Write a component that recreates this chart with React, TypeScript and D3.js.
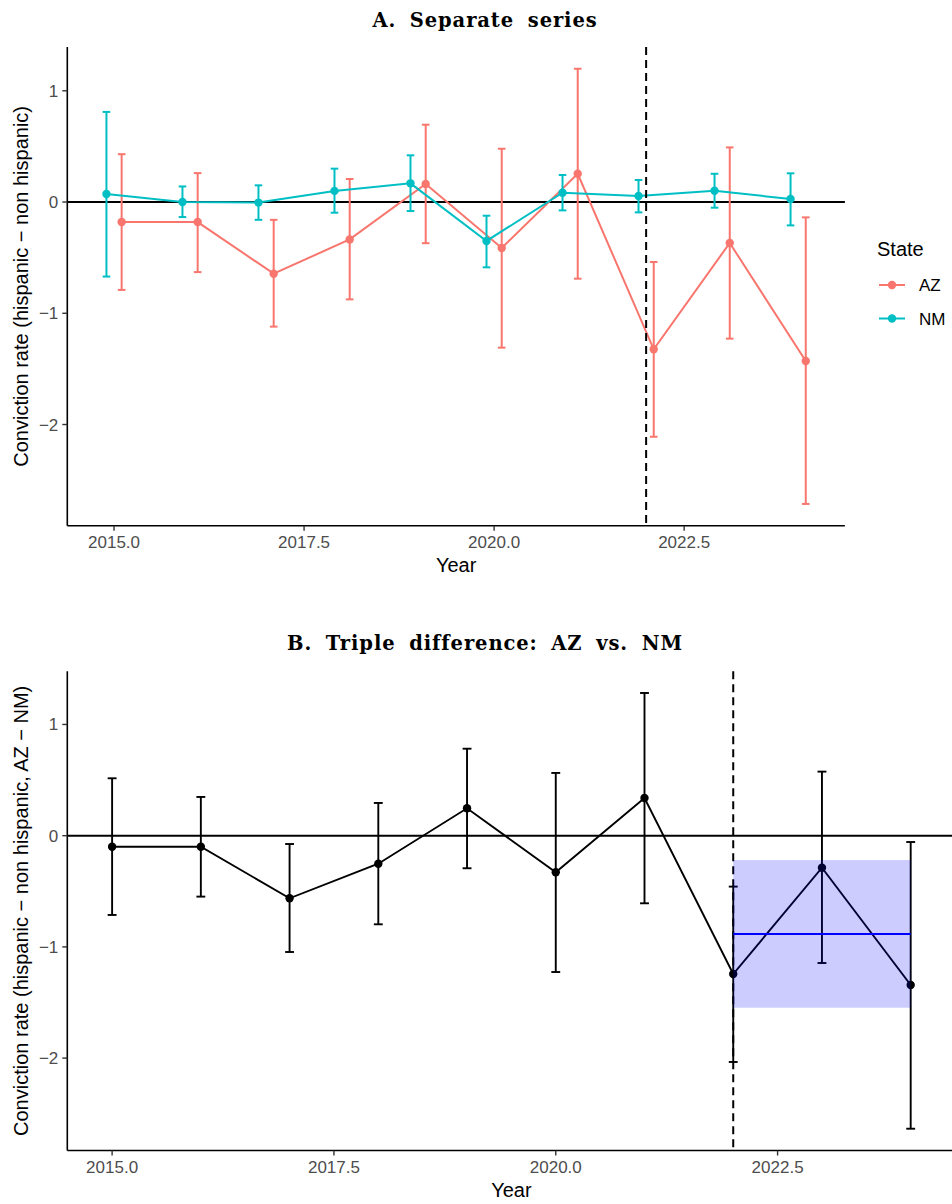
import React from "react";
import * as d3 from "d3";

const years = [2015, 2016, 2017, 2018, 2019, 2020, 2021, 2022, 2023, 2024];
const azEst = [-0.18, -0.18, -0.644, -0.336, 0.162, -0.413, 0.254, -1.324, -0.368, -1.429];
const azLo = [-0.79, -0.63, -1.12, -0.875, -0.37, -1.309, -0.689, -2.11, -1.228, -2.714];
const azHi = [0.43, 0.26, -0.16, 0.207, 0.695, 0.479, 1.198, -0.539, 0.491, -0.138];
const nmEst = [0.072, 0.0, -0.005, 0.1, 0.168, -0.35, 0.084, 0.054, 0.102, 0.027];
const nmLo = [-0.67, -0.135, -0.16, -0.096, -0.081, -0.587, -0.075, -0.093, -0.051, -0.21];
const nmHi = [0.81, 0.14, 0.15, 0.3, 0.42, -0.123, 0.243, 0.198, 0.254, 0.258];

const tdEst = [-0.099, -0.099, -0.563, -0.252, 0.246, -0.329, 0.339, -1.244, -0.288, -1.343];
const tdLo = [-0.713, -0.548, -1.046, -0.797, -0.293, -1.226, -0.608, -2.035, -1.145, -2.635];
const tdHi = [0.516, 0.348, -0.075, 0.294, 0.782, 0.564, 1.283, -0.458, 0.576, -0.057];

const pooledStart = [2022];
const pooledEnd = [2024];
const pooledEst = [-0.884];
const pooledLo = [-1.547];
const pooledHi = [-0.219];

const treatYear = 2022;
const xTicks = [2015, 2017.5, 2020, 2022.5];
const yTicks = [-2, -1, 0, 1];
const states = ["AZ", "NM"];
const stateColors = ["#F8766D", "#00BFC4"];

const SANS = "'Liberation Sans', Arial, Helvetica, sans-serif";
const SERIF = "'DejaVu Serif', serif";

function expand(lo: number, hi: number, f = 0.05): [number, number] {
  const s = hi - lo;
  return [lo - s * f, hi + s * f];
}

const fmtY = (v: number) => (v < 0 ? "\u2212" + Math.abs(v) : String(v));
const fmtX = (v: number) => v.toFixed(1);

function Axes({ x, y, top, bottom, left, right, ylabel, ylabelY, xlabelX }: any) {
  return (
    <g>
      <line x1={left} x2={left} y1={top} y2={bottom} stroke="#000" strokeWidth={1.6} />
      <line x1={left} x2={right} y1={bottom} y2={bottom} stroke="#000" strokeWidth={1.6} />
      {yTicks.map((t) => (
        <g key={"y" + t}>
          <line x1={left - 5} x2={left} y1={y(t)} y2={y(t)} stroke="#333" strokeWidth={1.4} />
          <text x={left - 9} y={y(t) + 6} textAnchor="end" fontFamily={SANS} fontSize={17} fill="#4D4D4D">
            {fmtY(t)}
          </text>
        </g>
      ))}
      {xTicks.map((t) => (
        <g key={"x" + t}>
          <line x1={x(t)} x2={x(t)} y1={bottom} y2={bottom + 5} stroke="#333" strokeWidth={1.4} />
          <text x={x(t)} y={bottom + 22.5} textAnchor="middle" fontFamily={SANS} fontSize={17} fill="#4D4D4D">
            {fmtX(t)}
          </text>
        </g>
      ))}
      <text x={xlabelX} y={bottom + 46} textAnchor="middle" fontFamily={SANS} fontSize={20} fill="#000">
        Year
      </text>
      <text
        transform={`translate(28,${ylabelY}) rotate(-90)`}
        textAnchor="middle"
        fontFamily={SANS}
        fontSize={20}
        fill="#000"
      >
        {ylabel}
      </text>
    </g>
  );
}

export default function App() {
  // Panel A
  const dodge = 0.1;
  const capA = 0.05;
  const aLeft = 67.3, aTop = 47, aBottom = 525.7;
  const xA = d3
    .scaleLinear()
    .domain(expand(years[0] - dodge - capA, years[years.length - 1] + dodge + capA))
    .range([aLeft, 844.9]);
  const allA = [...azLo, ...azHi, ...nmLo, ...nmHi];
  const yA = d3
    .scaleLinear()
    .domain(expand(d3.min(allA)!, d3.max(allA)!))
    .range([aBottom, aTop]);
  const aRight = xA.range()[1];

  const series = [
    { name: states[0], color: stateColors[0], est: azEst, lo: azLo, hi: azHi, off: dodge },
    { name: states[1], color: stateColors[1], est: nmEst, lo: nmLo, hi: nmHi, off: -dodge },
  ];

  const lineA = (est: number[], off: number) =>
    d3
      .line<number>()
      .x((_, i) => xA(years[i] + off))
      .y((v) => yA(v))(est) || "";

  // Panel B
  const capB = 0.05;
  const bLeft = 67.3, bTop = 671.2, bBottom = 1150.5;
  const xB = d3
    .scaleLinear()
    .domain(expand(years[0] - capB, years[years.length - 1] + capB))
    .range([bLeft, 955.5]);
  const allB = [...tdLo, ...tdHi];
  const yB = d3
    .scaleLinear()
    .domain(expand(d3.min(allB)!, d3.max(allB)!))
    .range([bBottom, bTop]);
  const bRight = xB.range()[1];
  const lineB =
    d3
      .line<number>()
      .x((_, i) => xB(years[i]))
      .y((v) => yB(v))(tdEst) || "";

  const titleProps = {
    textAnchor: "middle" as const,
    fontFamily: SERIF,
    fontWeight: "bold",
    fontSize: 19.5,
    wordSpacing: 6,
    letterSpacing: 0.9,
  };

  return (
    <svg
      width={952}
      height={1204}
      style={{ position: "absolute", left: 0, top: 0, background: "#fff" }}
      xmlns="http://www.w3.org/2000/svg"
    >
      <rect x={0} y={0} width={952} height={1204} fill="#fff" />

      {/* ---------- Panel A ---------- */}
      <text x={485} y={27} {...titleProps}>
        A. Separate series
      </text>
      <line x1={aLeft} x2={aRight} y1={yA(0)} y2={yA(0)} stroke="#000" strokeWidth={2} />
      {series.map((s) => (
        <g key={s.name}>
          <path d={lineA(s.est, s.off)} fill="none" stroke={s.color} strokeWidth={2} />
          {years.map((yr, i) => {
            const cx = xA(yr + s.off);
            const half = xA(yr + s.off + capA) - cx;
            return (
              <g key={yr}>
                <line x1={cx} x2={cx} y1={yA(s.lo[i])} y2={yA(s.hi[i])} stroke={s.color} strokeWidth={2} />
                <line x1={cx - half} x2={cx + half} y1={yA(s.lo[i])} y2={yA(s.lo[i])} stroke={s.color} strokeWidth={2} />
                <line x1={cx - half} x2={cx + half} y1={yA(s.hi[i])} y2={yA(s.hi[i])} stroke={s.color} strokeWidth={2} />
                <circle cx={cx} cy={yA(s.est[i])} r={4.2} fill={s.color} />
              </g>
            );
          })}
        </g>
      ))}
      <line
        x1={xA(treatYear)}
        x2={xA(treatYear)}
        y1={aTop}
        y2={aBottom}
        stroke="#000"
        strokeWidth={2}
        strokeDasharray="8,5"
      />
      <Axes
        x={xA}
        y={yA}
        top={aTop}
        bottom={aBottom}
        left={aLeft}
        right={aRight}
        ylabel={"Conviction rate (hispanic \u2212 non hispanic)"}
        ylabelY={(aTop + aBottom) / 2}
        xlabelX={(aLeft + aRight) / 2}
      />

      {/* Legend */}
      <text x={877} y={256} fontFamily={SANS} fontSize={20} fill="#000">
        State
      </text>
      {series.map((s, i) => {
        const ly = 285 + i * 33.5;
        return (
          <g key={"lg" + s.name}>
            <line x1={879} x2={905} y1={ly} y2={ly} stroke={s.color} strokeWidth={2} />
            <circle cx={892} cy={ly} r={4.2} fill={s.color} />
            <text x={919} y={ly + 6} fontFamily={SANS} fontSize={17} fill="#000">
              {s.name}
            </text>
          </g>
        );
      })}

      {/* ---------- Panel B ---------- */}
      <text x={485} y={650} {...titleProps}>
        B. Triple difference: AZ vs. NM
      </text>
      <line x1={bLeft} x2={bRight} y1={yB(0)} y2={yB(0)} stroke="#000" strokeWidth={2} />
      <line
        x1={xB(treatYear)}
        x2={xB(treatYear)}
        y1={bTop}
        y2={bBottom}
        stroke="#000"
        strokeWidth={2}
        strokeDasharray="8,5"
      />
      <path d={lineB} fill="none" stroke="#000" strokeWidth={1.9} />
      {years.map((yr, i) => {
        const cx = xB(yr);
        const half = xB(yr + capB) - cx;
        return (
          <g key={"b" + yr}>
            <line x1={cx} x2={cx} y1={yB(tdLo[i])} y2={yB(tdHi[i])} stroke="#000" strokeWidth={1.9} />
            <line x1={cx - half} x2={cx + half} y1={yB(tdLo[i])} y2={yB(tdLo[i])} stroke="#000" strokeWidth={1.9} />
            <line x1={cx - half} x2={cx + half} y1={yB(tdHi[i])} y2={yB(tdHi[i])} stroke="#000" strokeWidth={1.9} />
            <circle cx={cx} cy={yB(tdEst[i])} r={4.2} fill="#000" />
          </g>
        );
      })}
      {pooledEst.map((e, i) => (
        <g key={"p" + i}>
          <rect
            x={xB(pooledStart[i])}
            y={yB(pooledHi[i])}
            width={xB(pooledEnd[i]) - xB(pooledStart[i])}
            height={yB(pooledLo[i]) - yB(pooledHi[i])}
            fill="#0000FF"
            fillOpacity={0.2}
          />
          <line
            x1={xB(pooledStart[i])}
            x2={xB(pooledEnd[i])}
            y1={yB(e)}
            y2={yB(e)}
            stroke="#0000FF"
            strokeWidth={1.9}
          />
        </g>
      ))}
      <Axes
        x={xB}
        y={yB}
        top={bTop}
        bottom={bBottom}
        left={bLeft}
        right={bRight}
        ylabel={"Conviction rate (hispanic \u2212 non hispanic, AZ \u2212 NM)"}
        ylabelY={(bTop + bBottom) / 2}
        xlabelX={(bLeft + bRight) / 2}
      />
    </svg>
  );
}
